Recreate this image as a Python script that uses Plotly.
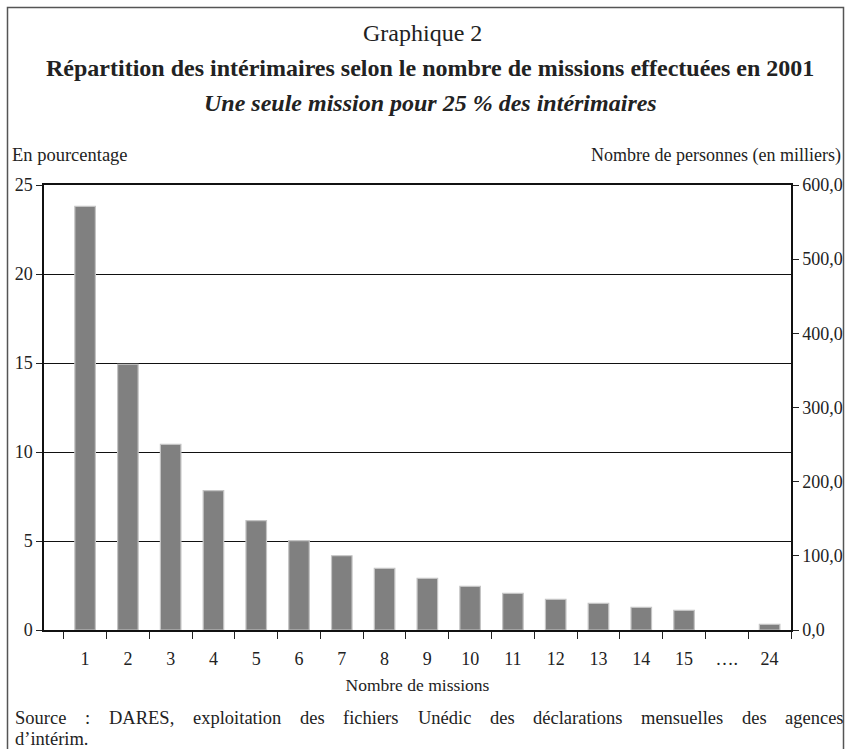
import plotly.graph_objects as go

categories = ["1", "2", "3", "4", "5", "6", "7", "8", "9", "10", "11", "12", "13", "14", "15", "….", "24"]
pct_values = [23.8, 14.93, 10.43, 7.83, 6.15, 5.02, 4.17, 3.46, 2.9, 2.45, 2.06, 1.72, 1.5, 1.27, 1.1, None, 0.32]
left_ticks = [0, 5, 10, 15, 20, 25]
right_tickvals = [0, 100, 200, 300, 400, 500, 600]
right_ticktext = ["0,0", "100,0", "200,0", "300,0", "400,0", "500,0", "600,0"]

title_text = "Graphique 2"
main_title = "Répartition des intérimaires selon le nombre de missions effectuées en 2001"
subtitle = "Une seule mission pour 25 % des intérimaires"
left_label = "En pourcentage"
right_label = "Nombre de personnes (en milliers)"
x_title = "Nombre de missions"
source_line1 = "Source : DARES, exploitation des fichiers Unédic des déclarations mensuelles des agences"
source_line2 = "d’intérim."

W, H = 845, 749
L, R, T, B = 44, 54, 185, 119
SERIF = "Liberation Serif, Times New Roman, serif"
INK = "#222"

fig = go.Figure()
fig.add_trace(go.Bar(
    x=categories, y=pct_values,
    marker=dict(color="#808080", line=dict(color="#c4c4c4", width=1.2)),
    hoverinfo="x+y", showlegend=False,
))
# invisible trace anchoring the right axis
fig.add_trace(go.Scatter(x=[categories[0]], y=[0], yaxis="y2", mode="markers",
                         marker=dict(opacity=0), showlegend=False, hoverinfo="skip"))

fig.update_layout(
    width=W, height=H,
    margin=dict(l=L, r=R, t=T, b=B, autoexpand=False),
    paper_bgcolor="white", plot_bgcolor="white",
    font=dict(family=SERIF, size=18, color=INK),
    bargap=0.52,
    xaxis=dict(
        type="category", categoryorder="array", categoryarray=categories,
        showline=True, linecolor="#111", linewidth=1.5, mirror=True,
        ticks="outside", tickson="boundaries", ticklen=7, tickcolor=INK, tickwidth=1,
        ticklabelstandoff=12, automargin=False,
        tickfont=dict(family=SERIF, size=18, color=INK),
        showgrid=False, zeroline=False,
        title=dict(text=x_title, font=dict(family=SERIF, size=17.5, color=INK), standoff=10),
    ),
    yaxis=dict(
        range=[0, 25], tickvals=left_ticks, automargin=False,
        showline=True, linecolor="#111", linewidth=1.5,
        ticks="outside", ticklen=6, tickcolor=INK,
        showgrid=True, gridcolor="#111", gridwidth=1.2,
        zeroline=False,
        tickfont=dict(family=SERIF, size=18, color=INK),
    ),
    yaxis2=dict(
        overlaying="y", side="right", range=[0, 600], automargin=False,
        tickvals=right_tickvals, ticktext=right_ticktext,
        showline=True, linecolor="#111", linewidth=1.5,
        ticks="outside", ticklen=6, tickcolor=INK,
        showgrid=False, zeroline=False,
        tickfont=dict(family=SERIF, size=18, color=INK),
    ),
)


def py(ypix):
    return 1 + (T - ypix) / (H - T - B)


def px(xpix):
    return (xpix - L) / (W - L - R)


def note(text, x, y, size, xanchor="left"):
    fig.add_annotation(text=text, xref="paper", yref="paper", x=px(x), y=py(y),
                       xanchor=xanchor, yanchor="middle", showarrow=False,
                       font=dict(family=SERIF, size=size, color=INK))


note(title_text, 422, 33, 24, "center")
note("<b>" + main_title + "</b>", 430, 68, 24, "center")
note("<b><i>" + subtitle + "</i></b>", 430, 103, 24, "center")
note(left_label, 10, 155, 18.5)
note(right_label, 843, 155, 18, "right")

# justified source line: words spread between the two margins
em = {"S": .556, "o": .5, "u": .5, "r": .333, "c": .444, "e": .444, ":": .278, "D": .722, "A": .722,
      "R": .667, "E": .611, ",": .25, "x": .5, "p": .5, "l": .278, "i": .278, "t": .278, "a": .444,
      "n": .5, "d": .5, "s": .389, "f": .333, "h": .5, "U": .722, "é": .444, "m": .778, "g": .5}
src_size = 18.5
words = source_line1.split(" ")
widths = [sum(em.get(ch, .5) for ch in w) * src_size for w in words]
x_left, x_right = 13, 842
gap = (x_right - x_left - sum(widths)) / (len(words) - 1)
xpos = x_left
for w, wd in zip(words, widths):
    note(w, xpos, 717.5, src_size)
    xpos += wd + gap
note(source_line2, x_left, 738.8, src_size)

# outer frame
fig.add_shape(type="rect", xref="paper", yref="paper",
              x0=px(7.5), x1=px(843.5), y0=py(770), y1=py(7.5),
              line=dict(color="#555", width=1.5), fillcolor="rgba(0,0,0,0)")

fig.write_html("out.html", config={"displayModeBar": False},
               post_script="document.body.style.margin='0';document.body.style.overflow='hidden';")
